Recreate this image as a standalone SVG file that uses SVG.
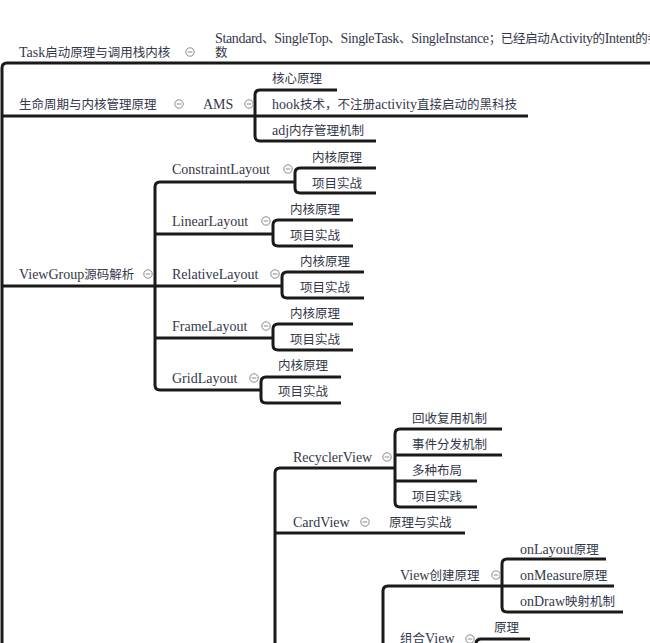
<svg xmlns="http://www.w3.org/2000/svg" width="650" height="643" viewBox="0 0 650 643">
<defs>
<style>
.t{font-family:"Liberation Serif","Noto Sans CJK SC",serif;font-size:12.5px;fill:#34384a}
.L{font-size:14px}
.c{fill:none;stroke:#1a1a1a;stroke-width:3;stroke-linecap:butt;stroke-linejoin:round}
.tg{fill:#fff;stroke:#8a8a8a;stroke-width:1}
.tm{stroke:#8a8a8a;stroke-width:1}
</style>
<g id="toggle"><circle class="tg" cx="0" cy="0" r="4.2"/><line class="tm" x1="-2.3" y1="0" x2="2.3" y2="0"/></g>
</defs>
<rect width="650" height="643" fill="#fff"/>
<g id="connectors">
<path class="c" d="M2,643 V68 Q2,63 7,63 H650"/>
<path class="c" d="M2,116 H255"/>
<path class="c" d="M2,286 H155"/>
<path class="c" d="M337,90 H260 Q255,90 255,95 V136 Q255,141 260,141 H376"/>
<path class="c" d="M255,116 H528"/>
<path class="c" d="M295,182 H160 Q155,182 155,187 V385 Q155,390 160,390 H261"/>
<path class="c" d="M155,234 H273"/>
<path class="c" d="M155,286 H282"/>
<path class="c" d="M155,338 H273"/>
<path class="c" d="M376,168 H300 Q295,168 295,173 V188 Q295,193 300,193 H376"/>
<path class="c" d="M353,220 H278 Q273,220 273,225 V241 Q273,246 278,246 H353"/>
<path class="c" d="M364,272 H287 Q282,272 282,277 V293 Q282,298 287,298 H364"/>
<path class="c" d="M353,324 H278 Q273,324 273,329 V345 Q273,350 278,350 H353"/>
<path class="c" d="M341,377 H266 Q261,377 261,382 V398 Q261,403 266,403 H341"/>
<path class="c" d="M395,468 H280 Q275,468 275,473 V643"/>
<path class="c" d="M275,533 H465"/>
<path class="c" d="M502,429 H400 Q395,429 395,434 V502 Q395,507 400,507 H477"/>
<path class="c" d="M395,455 H502"/>
<path class="c" d="M395,481 H477"/>
<path class="c" d="M502,586 H388 Q383,586 383,591 V643"/>
<path class="c" d="M606,559 H507 Q502,559 502,564 V607 Q502,612 507,612 H623"/>
<path class="c" d="M502,586 H614"/>
<path class="c" d="M530,639 H481 Q476,639 476,644"/>
</g>
<g id="task">
<text class="t" x="19" y="56.5"><tspan class="L">Task</tspan>启动原理与调用栈内核</text>
<use href="#toggle" x="190" y="52"/>
</g>
<g id="task-launch-modes">
<text class="t" x="215" y="42.5" textLength="445" lengthAdjust="spacing"><tspan class="L">Standard</tspan>、<tspan class="L">SingleTop</tspan>、<tspan class="L">SingleTask</tspan>、<tspan class="L">SingleInstance</tspan>；已经启动<tspan class="L">Activity</tspan>的<tspan class="L">Intent</tspan>的参</text>
<text class="t" x="215" y="56.5">数</text>
</g>
<g id="lifecycle">
<text class="t" x="19" y="108.5">生命周期与内核管理原理</text>
<use href="#toggle" x="179" y="104"/>
</g>
<g id="ams">
<text class="t L" x="203" y="108.5">AMS</text>
<use href="#toggle" x="249" y="104"/>
</g>
<g id="ams-core"><text class="t" x="272" y="82.5">核心原理</text></g>
<g id="ams-hook"><text class="t" x="272" y="108.5"><tspan class="L">hook</tspan>技术，不注册<tspan class="L">activity</tspan>直接启动的黑科技</text></g>
<g id="ams-adj"><text class="t" x="272" y="134.5"><tspan class="L">adj</tspan>内存管理机制</text></g>
<g id="viewgroup">
<text class="t" x="19" y="278.5"><tspan class="L">ViewGroup</tspan>源码解析</text>
<use href="#toggle" x="148" y="274"/>
</g>
<g id="constraint">
<text class="t L" x="172" y="173.5">ConstraintLayout</text>
<use href="#toggle" x="288" y="169"/>
</g>
<g id="constraint-core"><text class="t" x="312" y="161.5">内核原理</text></g>
<g id="constraint-proj"><text class="t" x="312" y="187.5">项目实战</text></g>
<g id="linear">
<text class="t L" x="172" y="225.5">LinearLayout</text>
<use href="#toggle" x="266" y="221"/>
</g>
<g id="linear-core"><text class="t" x="290" y="213.5">内核原理</text></g>
<g id="linear-proj"><text class="t" x="290" y="239.5">项目实战</text></g>
<g id="relative">
<text class="t L" x="172" y="278.5">RelativeLayout</text>
<use href="#toggle" x="275" y="274"/>
</g>
<g id="relative-core"><text class="t" x="300" y="265.5">内核原理</text></g>
<g id="relative-proj"><text class="t" x="300" y="291.5">项目实战</text></g>
<g id="frame">
<text class="t L" x="172" y="330.5">FrameLayout</text>
<use href="#toggle" x="266" y="326"/>
</g>
<g id="frame-core"><text class="t" x="290" y="317.5">内核原理</text></g>
<g id="frame-proj"><text class="t" x="290" y="343.5">项目实战</text></g>
<g id="grid">
<text class="t L" x="172" y="382.5">GridLayout</text>
<use href="#toggle" x="254" y="378"/>
</g>
<g id="grid-core"><text class="t" x="278" y="369.5">内核原理</text></g>
<g id="grid-proj"><text class="t" x="278" y="395.5">项目实战</text></g>
<g id="recycler">
<text class="t L" x="293" y="461.5">RecyclerView</text>
<use href="#toggle" x="387" y="457"/>
</g>
<g id="recycler-reuse"><text class="t" x="412" y="422.5">回收复用机制</text></g>
<g id="recycler-event"><text class="t" x="412" y="448.5">事件分发机制</text></g>
<g id="recycler-layout"><text class="t" x="412" y="474.5">多种布局</text></g>
<g id="recycler-proj"><text class="t" x="412" y="500.5">项目实践</text></g>
<g id="cardview">
<text class="t L" x="293" y="526.5">CardView</text>
<use href="#toggle" x="365" y="522"/>
</g>
<g id="cardview-child"><text class="t" x="389" y="526.5">原理与实战</text></g>
<g id="view-create">
<text class="t" x="400" y="579.5"><tspan class="L">View</tspan>创建原理</text>
<use href="#toggle" x="496" y="575"/>
</g>
<g id="on-layout"><text class="t" x="520" y="553.5"><tspan class="L">onLayout</tspan>原理</text></g>
<g id="on-measure"><text class="t" x="520" y="579.5"><tspan class="L">onMeasure</tspan>原理</text></g>
<g id="on-draw"><text class="t" x="520" y="605.5"><tspan class="L">onDraw</tspan>映射机制</text></g>
<g id="compound-view">
<text class="t" x="400" y="642.5">组合<tspan class="L">View</tspan></text>
<use href="#toggle" x="470" y="639"/>
</g>
<g id="compound-principle"><text class="t" x="494" y="631.5">原理</text></g>
</svg>
